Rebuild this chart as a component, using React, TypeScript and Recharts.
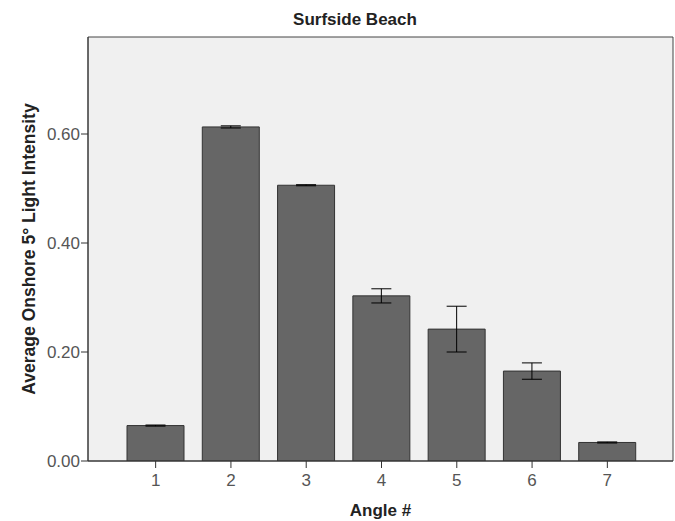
import { BarChart, Bar, XAxis, YAxis, CartesianGrid, ErrorBar } from 'recharts'

// Surfside Beach – mean onshore 5° light intensity by angle
const angles = ['1', '2', '3', '4', '5', '6', '7']
const intensity = [0.065, 0.613, 0.506, 0.303, 0.242, 0.165, 0.034]
const errors = [0.001, 0.002, 0.001, 0.013, 0.042, 0.015, 0.001]
const yTicks = [0, 0.2, 0.4, 0.6]

const FONT = '"Liberation Sans", Arial, sans-serif'

const data = angles.map((angle, i) => ({
  angle,
  value: intensity[i],
  err: errors[i],
}))

export default function App() {
  return (
    <div
      style={{
        position: 'absolute',
        left: 0,
        top: 0,
        width: 675,
        height: 521,
        background: '#fff',
        fontFamily: FONT,
      }}
    >
      <div
        style={{
          position: 'absolute',
          left: 255,
          top: 10,
          width: 200,
          textAlign: 'center',
          fontSize: 17,
          fontWeight: 'bold',
          lineHeight: '20px',
          color: '#222',
        }}
      >
        Surfside Beach
      </div>
      <BarChart
        width={675}
        height={521}
        data={data}
        margin={{ top: 37, right: 2, bottom: 10, left: 28 }}
      >
        <CartesianGrid
          fill="#F0F0F0"
          stroke="#444"
          horizontalCoordinatesGenerator={({ offset }: any) => [offset.top, offset.top + offset.height]}
          verticalCoordinatesGenerator={({ offset }: any) => [offset.left, offset.left + offset.width]}
        />
        <XAxis
          dataKey="angle"
          height={50}
          padding={{ left: 30, right: 28 }}
          stroke="#333"
          tickSize={7}
          tickMargin={6}
          tick={{ fontSize: 17, fill: '#555', fontFamily: FONT }}
          label={{
            content: ({ viewBox }: any) => (
              <text
                x={viewBox.x + viewBox.width / 2}
                y={viewBox.y + 55}
                textAnchor="middle"
                fontSize={17}
                fontWeight="bold"
                fill="#222"
                fontFamily={FONT}
              >
                Angle #
              </text>
            ),
          }}
        />
        <YAxis
          width={60}
          domain={[0, 0.778]}
          ticks={yTicks}
          allowDataOverflow
          stroke="#333"
          tickSize={7}
          tickMargin={1}
          tickFormatter={(v: number) => v.toFixed(2)}
          tick={{ fontSize: 17, fill: '#555', fontFamily: FONT }}
          label={{
            content: ({ viewBox }: any) => {
              const cx = 29
              const cy = viewBox.y + viewBox.height / 2
              return (
                <text
                  x={cx}
                  y={cy}
                  transform={`rotate(-90, ${cx}, ${cy})`}
                  textAnchor="middle"
                  dominantBaseline="central"
                  fontSize={17.5}
                  fontWeight="bold"
                  fill="#222"
                  fontFamily={FONT}
                >
                  Average Onshore 5° Light Intensity
                </text>
              )
            },
          }}
        />
        <Bar dataKey="value" fill="#666666" stroke="#333" strokeWidth={1} barSize={57} isAnimationActive={false}>
          <ErrorBar dataKey="err" width={10} stroke="#000" strokeWidth={1} isAnimationActive={false} />
        </Bar>
      </BarChart>
    </div>
  )
}
